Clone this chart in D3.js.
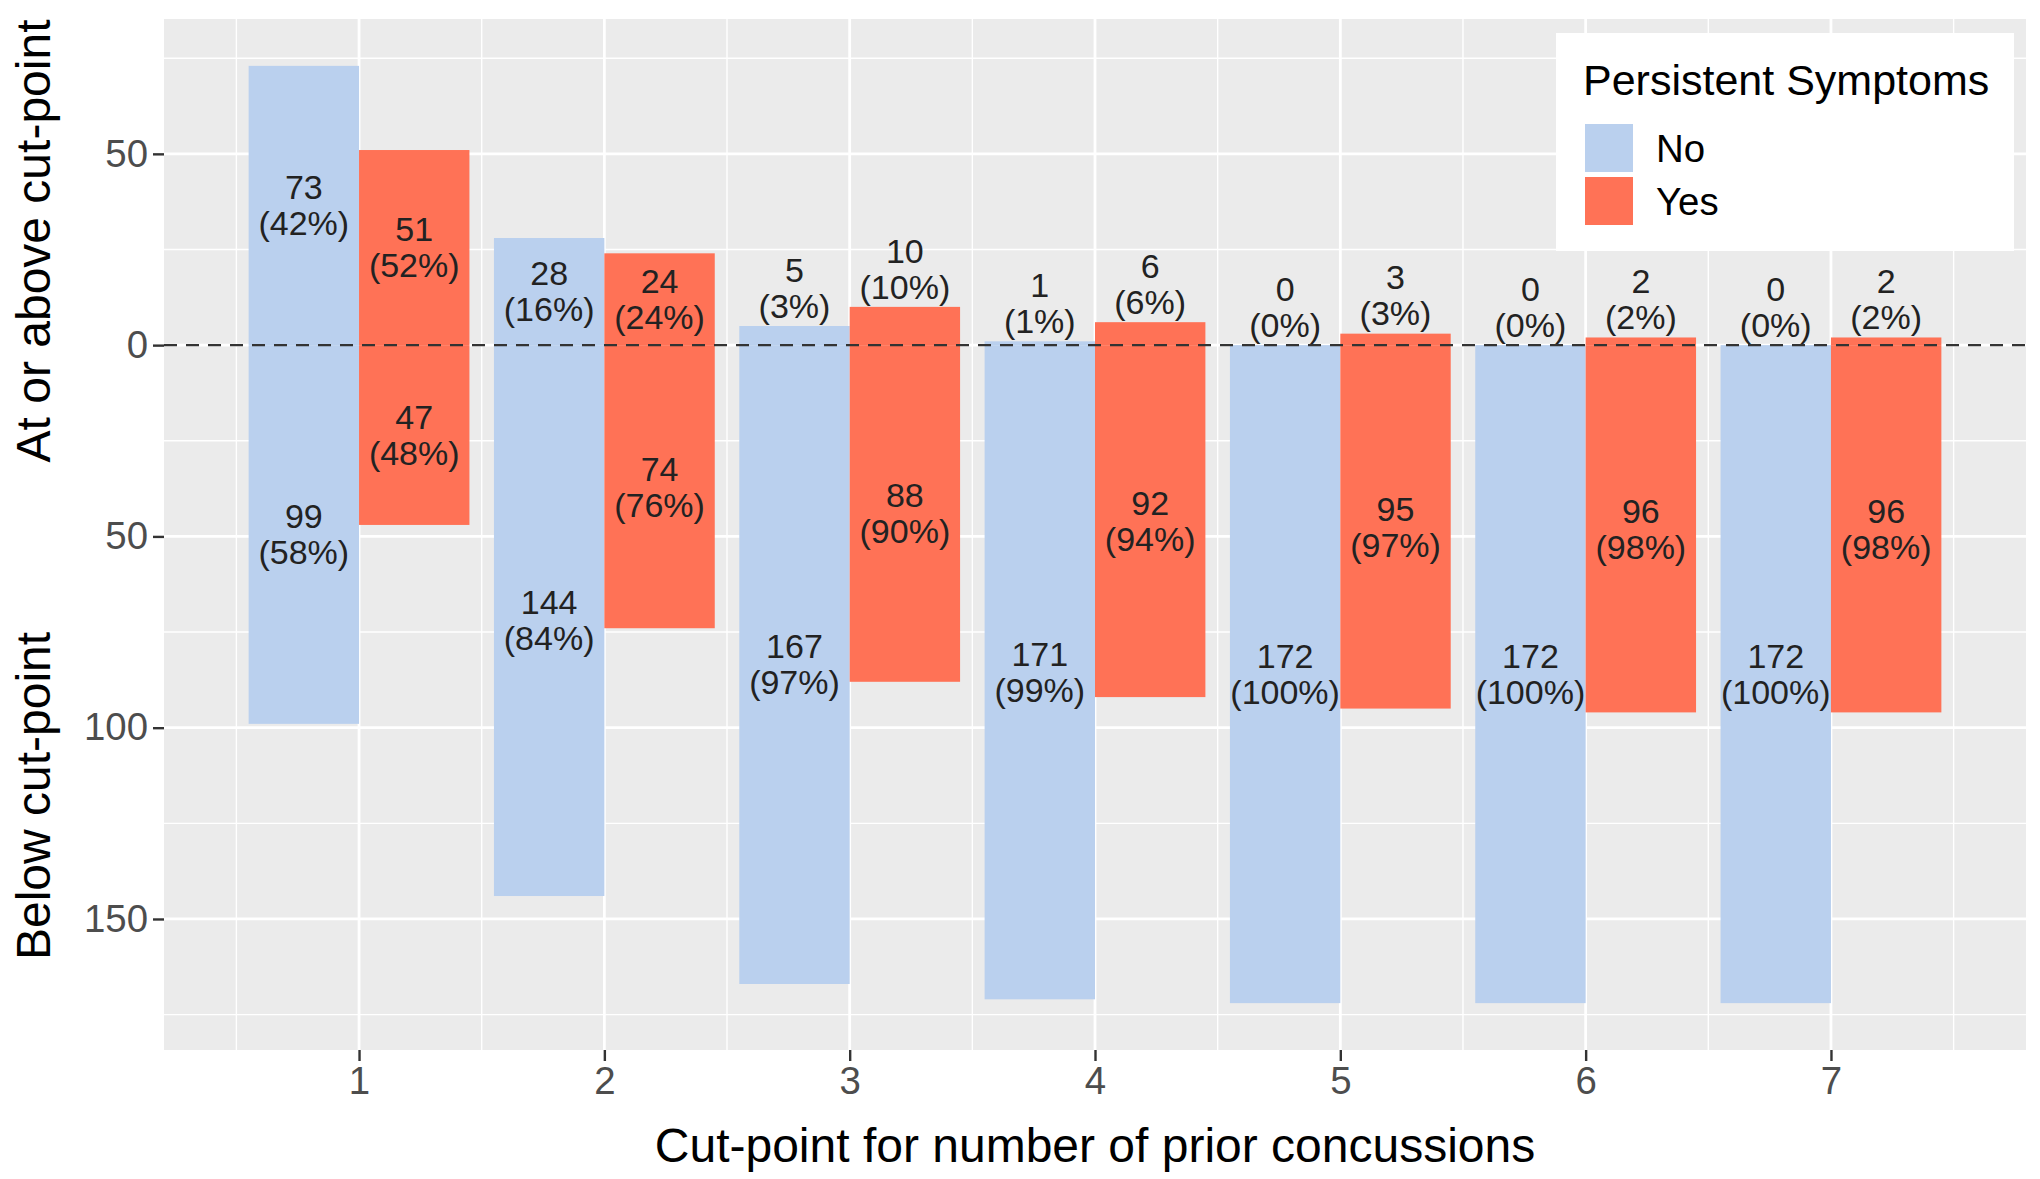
<!DOCTYPE html>
<html>
<head>
<meta charset="utf-8">
<script src="https://cdn.jsdelivr.net/npm/d3@7"></script>
<style>
  body { margin: 0; background: #fff; }
  text { font-family: "Liberation Sans", Arial, Helvetica, sans-serif; }
</style>
</head>
<body>
<div id="chart"></div>
<script>
// cut-points and counts
var cutPoints = [1, 2, 3, 4, 5, 6, 7];
var groups = ['No', 'Yes'];

var noAbove = [73, 28, 5, 1, 0, 0, 0];
var noAbovePct = [42, 16, 3, 1, 0, 0, 0];
var noBelow = [99, 144, 167, 171, 172, 172, 172];
var noBelowPct = [58, 84, 97, 99, 100, 100, 100];

var yesAbove = [51, 24, 10, 6, 3, 2, 2];
var yesAbovePct = [52, 24, 10, 6, 3, 2, 2];
var yesBelow = [47, 74, 88, 92, 95, 96, 96];
var yesBelowPct = [48, 76, 90, 94, 97, 98, 98];

var yTicks = [-150, -100, -50, 0, 50];
var yMinor = [-175, -125, -75, -25, 25, 75];
var xMinor = [0.5, 1.5, 2.5, 3.5, 4.5, 5.5, 6.5, 7.5];

var colors = { No: '#BAD0EE', Yes: '#FF7256' };

var svgWidth = 2040;
var svgHeight = 1179;

var margin = { top: 19, right: 14, bottom: 129, left: 164 };
var chartWidth = svgWidth - margin.left - margin.right;
var chartHeight = svgHeight - margin.top - margin.bottom;

var svg = d3.select('#chart').append('svg')
  .attr('width', svgWidth)
  .attr('height', svgHeight)
  .style('background', '#fff');

var chartGroup = svg.append('g')
  .attr('transform', `translate(${margin.left}, ${margin.top})`);

// build a long table: one row per bar
var rows = [];
cutPoints.forEach(function(c, i) {
  rows.push({ cut: c, group: 'No', side: 'above', n: noAbove[i], pct: noAbovePct[i] });
  rows.push({ cut: c, group: 'No', side: 'below', n: noBelow[i], pct: noBelowPct[i] });
  rows.push({ cut: c, group: 'Yes', side: 'above', n: yesAbove[i], pct: yesAbovePct[i] });
  rows.push({ cut: c, group: 'Yes', side: 'below', n: yesBelow[i], pct: yesBelowPct[i] });
});

var barW = 0.45;

var xScale = d3.scaleLinear()
  .domain([0.205, 7.795])
  .range([0, chartWidth]);

var yScale = d3.scaleLinear()
  .domain([-184.25, 85.25])
  .range([chartHeight, 0]);

// panel
chartGroup.append('rect')
  .attr('width', chartWidth)
  .attr('height', chartHeight)
  .attr('fill', '#EBEBEB');

// minor grid
chartGroup.selectAll('line.ymin')
  .data(yMinor).enter().append('line')
  .attr('x1', 0).attr('x2', chartWidth)
  .attr('y1', d => yScale(d)).attr('y2', d => yScale(d))
  .attr('stroke', '#fff').attr('stroke-width', 1.4);

chartGroup.selectAll('line.xmin')
  .data(xMinor).enter().append('line')
  .attr('y1', 0).attr('y2', chartHeight)
  .attr('x1', d => xScale(d)).attr('x2', d => xScale(d))
  .attr('stroke', '#fff').attr('stroke-width', 1.4);

// major grid
chartGroup.selectAll('line.ymaj')
  .data(yTicks).enter().append('line')
  .attr('x1', 0).attr('x2', chartWidth)
  .attr('y1', d => yScale(d)).attr('y2', d => yScale(d))
  .attr('stroke', '#fff').attr('stroke-width', 2.8);

chartGroup.selectAll('line.xmaj')
  .data(cutPoints).enter().append('line')
  .attr('y1', 0).attr('y2', chartHeight)
  .attr('x1', d => xScale(d)).attr('x2', d => xScale(d))
  .attr('stroke', '#fff').attr('stroke-width', 2.8);

// bars
chartGroup.selectAll('rect.bar')
  .data(rows).enter().append('rect')
  .attr('class', 'bar')
  .attr('x', d => xScale(d.group === 'No' ? d.cut - barW : d.cut))
  .attr('width', xScale(barW) - xScale(0))
  .attr('y', d => d.side === 'above' ? yScale(d.n) : yScale(0))
  .attr('height', d => Math.abs(yScale(d.n) - yScale(0)))
  .attr('fill', d => colors[d.group]);

// zero line
chartGroup.append('line')
  .attr('x1', 0).attr('x2', chartWidth)
  .attr('y1', yScale(0)).attr('y2', yScale(0))
  .attr('stroke', '#333')
  .attr('stroke-width', 2.4)
  .attr('stroke-dasharray', '13,9');

// bar labels
function labelPos(d) {
  if (d.side === 'below') return -d.n / 2;
  return d.n >= 20 ? d.n / 2 : d.n + 10;
}

var labels = chartGroup.selectAll('text.barLabel')
  .data(rows).enter().append('text')
  .attr('class', 'barLabel')
  .attr('text-anchor', 'middle')
  .attr('font-size', 34)
  .attr('fill', '#222')
  .attr('x', d => xScale(d.group === 'No' ? d.cut - barW / 2 : d.cut + barW / 2))
  .attr('y', d => yScale(labelPos(d)));

labels.append('tspan')
  .attr('x', function() { return this.parentNode.getAttribute('x'); })
  .attr('dy', '-0.18em')
  .text(d => d.n);

labels.append('tspan')
  .attr('x', function() { return this.parentNode.getAttribute('x'); })
  .attr('dy', 36)
  .text(d => '(' + d.pct + '%)');

// axes
var yAxis = d3.axisLeft(yScale)
  .tickValues(yTicks)
  .tickFormat(d => Math.abs(d))
  .tickSize(11)
  .tickPadding(5);

var xAxis = d3.axisBottom(xScale)
  .tickValues(cutPoints)
  .tickSize(11)
  .tickPadding(6);

var gy = chartGroup.append('g').call(yAxis);
var gx = chartGroup.append('g')
  .attr('transform', `translate(0, ${chartHeight})`)
  .call(xAxis);

[gx, gy].forEach(function(g) {
  g.select('.domain').remove();
  g.selectAll('.tick line').attr('stroke', '#333').attr('stroke-width', 2.4);
  g.selectAll('.tick text')
    .attr('fill', '#4D4D4D')
    .attr('font-size', 38.4)
    .attr('font-family', '"Liberation Sans", Arial, sans-serif');
});

// axis titles
svg.append('text')
  .attr('x', margin.left + chartWidth / 2)
  .attr('y', 1162)
  .attr('text-anchor', 'middle')
  .attr('font-size', 48)
  .attr('fill', '#000')
  .text('Cut-point for number of prior concussions');

svg.append('text')
  .attr('transform', 'translate(50, 241) rotate(-90)')
  .attr('text-anchor', 'middle')
  .attr('font-size', 48)
  .attr('fill', '#000')
  .text('At or above cut-point');

svg.append('text')
  .attr('transform', 'translate(50, 796) rotate(-90)')
  .attr('text-anchor', 'middle')
  .attr('font-size', 48)
  .attr('fill', '#000')
  .text('Below cut-point');

// legend
var legend = svg.append('g').attr('transform', 'translate(1556, 33)');

legend.append('rect')
  .attr('width', 458)
  .attr('height', 218)
  .attr('fill', '#fff');

legend.append('text')
  .attr('x', 27)
  .attr('y', 62)
  .attr('font-size', 43)
  .attr('fill', '#000')
  .text('Persistent Symptoms');

var keys = legend.selectAll('g.key')
  .data(groups).enter().append('g')
  .attr('transform', (d, i) => `translate(29, ${91 + i * 53})`);

keys.append('rect')
  .attr('width', 48)
  .attr('height', 48)
  .attr('fill', d => colors[d]);

keys.append('text')
  .attr('x', 71)
  .attr('y', 24)
  .attr('dy', '0.36em')
  .attr('font-size', 38.4)
  .attr('fill', '#000')
  .text(d => d);
</script>
</body>
</html>
